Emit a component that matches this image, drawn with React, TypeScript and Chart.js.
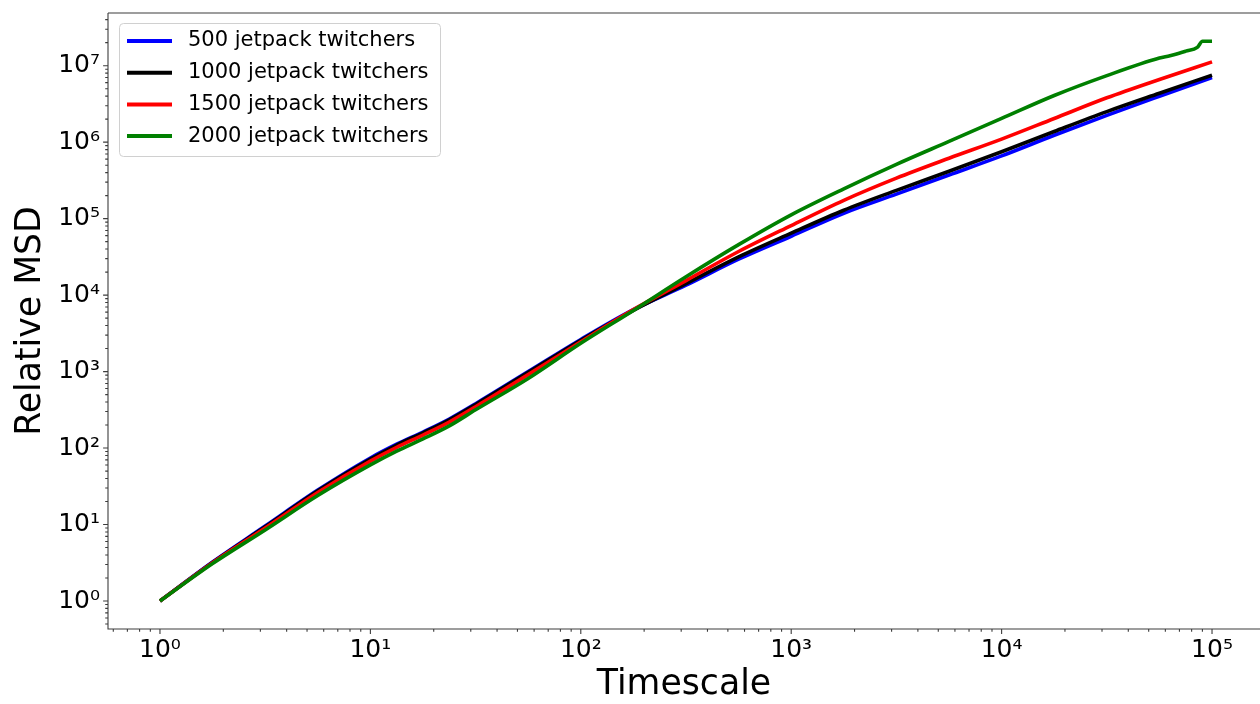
import React, { useEffect, useRef } from 'react';
import { Chart, registerables } from 'chart.js';

Chart.register(...registerables);

const seriesLabels = [
  '500 jetpack twitchers',
  '1000 jetpack twitchers',
  '1500 jetpack twitchers',
  '2000 jetpack twitchers',
];
const seriesColors = ['#0000ff', '#000000', '#ff0000', '#008000'];

// log10(Timescale) sample positions
const timescaleExp = [0, 0.25, 0.5, 0.75, 1, 1.125, 1.25, 1.375, 1.5, 1.75, 2, 2.25, 2.5, 2.75, 3, 3.25, 3.5, 3.75, 4, 4.25, 4.5, 4.75, 5];
// log10(Relative MSD)
const msdExp500 = [0, 0.51, 0.98, 1.45, 1.87, 2.05, 2.21, 2.38, 2.58, 3.0, 3.42, 3.81, 4.13, 4.47, 4.77, 5.07, 5.32, 5.57, 5.82, 6.09, 6.35, 6.6, 6.846];
const msdExp1000 = [0, 0.505, 0.97, 1.44, 1.855, 2.04, 2.2, 2.37, 2.57, 2.99, 3.41, 3.8, 4.15, 4.5, 4.81, 5.11, 5.37, 5.62, 5.875, 6.14, 6.4, 6.64, 6.876];
const msdExp1500 = [0, 0.5, 0.955, 1.42, 1.83, 2.01, 2.17, 2.34, 2.54, 2.96, 3.39, 3.81, 4.19, 4.57, 4.91, 5.24, 5.53, 5.79, 6.04, 6.31, 6.58, 6.82, 7.05];
// the 2000 series has a noisy tail, so it carries a few extra samples
const timescaleExp2000 = [0, 0.25, 0.5, 0.75, 1, 1.125, 1.25, 1.375, 1.5, 1.75, 2, 2.25, 2.5, 2.75, 3, 3.25, 3.5, 3.75, 4, 4.25, 4.5, 4.75, 4.8, 4.84, 4.875, 4.93, 4.955, 5];
const msdExp2000 = [0, 0.49, 0.93, 1.38, 1.78, 1.96, 2.12, 2.29, 2.5, 2.91, 3.37, 3.8, 4.24, 4.66, 5.05, 5.39, 5.71, 6.01, 6.31, 6.61, 6.87, 7.1, 7.13, 7.16, 7.19, 7.24, 7.32, 7.32];

const xTickExps = [0, 1, 2, 3, 4, 5];
const yTickExps = [0, 1, 2, 3, 4, 5, 6, 7];

const X_MIN = Math.pow(10, -0.247);
const X_MAX = Math.pow(10, 5.228);
const Y_MIN = Math.pow(10, -0.366);
const Y_MAX = Math.pow(10, 7.689);

const FONT = "'DejaVu Sans', 'Liberation Sans', sans-serif";
const SUP: Record<string, string> = {
  '0': '\u2070', '1': '\u00B9', '2': '\u00B2', '3': '\u00B3', '4': '\u2074',
  '5': '\u2075', '6': '\u2076', '7': '\u2077', '8': '\u2078', '9': '\u2079', '-': '\u207B',
};
const powLabel = (e: number) => '10' + String(e).split('').map((c) => SUP[c]).join('');

const toPoints = (xs: number[], ys: number[]) =>
  xs.map((ex, i) => ({ x: Math.pow(10, ex), y: Math.pow(10, ys[i]) }));

const axesDecor = {
  id: 'axesDecor',
  afterDraw(chart: any) {
    const { ctx, chartArea: a } = chart;
    const xs = chart.scales.x;
    const ys = chart.scales.y;
    ctx.save();
    ctx.strokeStyle = '#3c3c3c';
    ctx.lineWidth = 1.1;
    ctx.beginPath();
    ctx.moveTo(a.left, a.top);
    ctx.lineTo(a.right, a.top);
    ctx.moveTo(a.left, a.top);
    ctx.lineTo(a.left, a.bottom);
    ctx.lineTo(a.right, a.bottom);
    ctx.stroke();
    ctx.beginPath();
    for (let d = -1; d <= 6; d++) {
      for (let m = 1; m <= 9; m++) {
        const v = m * Math.pow(10, d);
        if (v < X_MIN || v > X_MAX) continue;
        const px = xs.getPixelForValue(v);
        const len = m === 1 ? 4.9 : 2.8;
        ctx.moveTo(px, a.bottom);
        ctx.lineTo(px, a.bottom + len);
      }
    }
    for (let d = -1; d <= 8; d++) {
      for (let m = 1; m <= 9; m++) {
        const v = m * Math.pow(10, d);
        if (v < Y_MIN || v > Y_MAX) continue;
        const py = ys.getPixelForValue(v);
        const len = m === 1 ? 4.9 : 2.8;
        ctx.moveTo(a.left, py);
        ctx.lineTo(a.left - len, py);
      }
    }
    ctx.stroke();
    ctx.restore();
  },
};

const boxLegend = {
  id: 'boxLegend',
  afterDraw(chart: any) {
    const { ctx } = chart;
    const dsets = chart.data.datasets;
    const bx = 119.5, by = 23.5, bw = 321, bh = 133;
    ctx.save();
    ctx.beginPath();
    ctx.roundRect(bx, by, bw, bh, 4);
    ctx.fillStyle = 'rgba(255,255,255,0.8)';
    ctx.fill();
    ctx.strokeStyle = '#d0d0d0';
    ctx.lineWidth = 1;
    ctx.stroke();
    ctx.font = `21px ${FONT}`;
    ctx.textBaseline = 'middle';
    ctx.textAlign = 'left';
    dsets.forEach((ds: any, i: number) => {
      const yy = 41 + i * 31.7;
      ctx.beginPath();
      ctx.strokeStyle = ds.borderColor;
      ctx.lineWidth = 4;
      ctx.moveTo(127, yy);
      ctx.lineTo(172, yy);
      ctx.stroke();
      ctx.fillStyle = '#000';
      ctx.fillText(ds.label, 188, yy);
    });
    ctx.restore();
  },
};

export default function App() {
  const ref = useRef<HTMLCanvasElement>(null);
  useEffect(() => {
    const series = [
      toPoints(timescaleExp, msdExp500),
      toPoints(timescaleExp, msdExp1000),
      toPoints(timescaleExp, msdExp1500),
      toPoints(timescaleExp2000, msdExp2000),
    ];
    const chart = new Chart(ref.current as HTMLCanvasElement, {
      type: 'line',
      data: {
        datasets: series.map((pts, i) => ({
          label: seriesLabels[i],
          data: pts,
          borderColor: seriesColors[i],
          backgroundColor: seriesColors[i],
          borderWidth: 3.6,
          pointRadius: 0,
          fill: false,
          cubicInterpolationMode: 'monotone' as const,
          order: 4 - i,
        })),
      },
      options: {
        animation: false,
        responsive: false,
        maintainAspectRatio: false,
        layout: { padding: { top: 13, left: 0, right: 0, bottom: 0 } },
        plugins: { legend: { display: false }, tooltip: { enabled: false } },
        scales: {
          x: {
            type: 'logarithmic',
            min: X_MIN,
            max: X_MAX,
            grid: { display: false, drawTicks: false },
            border: { display: false },
            afterBuildTicks: (s: any) => {
              s.ticks = xTickExps.map((e) => ({ value: Math.pow(10, e) }));
            },
            afterFit: (s: any) => {
              s.height = 75;
              s.paddingLeft = 0;
              s.paddingRight = 0;
              s.paddingTop = 0;
              s.paddingBottom = 0;
            },
            ticks: {
              autoSkip: false,
              maxRotation: 0,
              padding: 6,
              color: '#000',
              font: { family: FONT, size: 25 },
              callback: (v: any) => powLabel(Math.round(Math.log10(Number(v)))),
            },
            title: {
              display: true,
              text: 'Timescale',
              color: '#000',
              font: { family: FONT, size: 34.7, lineHeight: 1 },
              padding: { top: 0, bottom: 2 },
            },
          },
          y: {
            type: 'logarithmic',
            min: Y_MIN,
            max: Y_MAX,
            grid: { display: false, drawTicks: false },
            border: { display: false },
            afterBuildTicks: (s: any) => {
              s.ticks = yTickExps.map((e) => ({ value: Math.pow(10, e) }));
            },
            afterFit: (s: any) => {
              s.width = 108;
              s.paddingLeft = 0;
              s.paddingRight = 0;
              s.paddingTop = 0;
              s.paddingBottom = 0;
            },
            ticks: {
              autoSkip: false,
              padding: 8,
              color: '#000',
              font: { family: FONT, size: 25 },
              callback: (v: any) => powLabel(Math.round(Math.log10(Number(v)))),
            },
            title: {
              display: true,
              text: 'Relative MSD',
              color: '#000',
              font: { family: FONT, size: 34.7, lineHeight: 1 },
              padding: { top: 14, bottom: 0 },
            },
          },
        },
      },
      plugins: [axesDecor, boxLegend],
    } as any);
    return () => chart.destroy();
  }, []);
  return (
    <div style={{ position: 'absolute', left: 0, top: 0, width: 1260, height: 704, background: '#fff' }}>
      <canvas ref={ref} width={1260} height={704} style={{ display: 'block', width: 1260, height: 704 }} />
    </div>
  );
}
